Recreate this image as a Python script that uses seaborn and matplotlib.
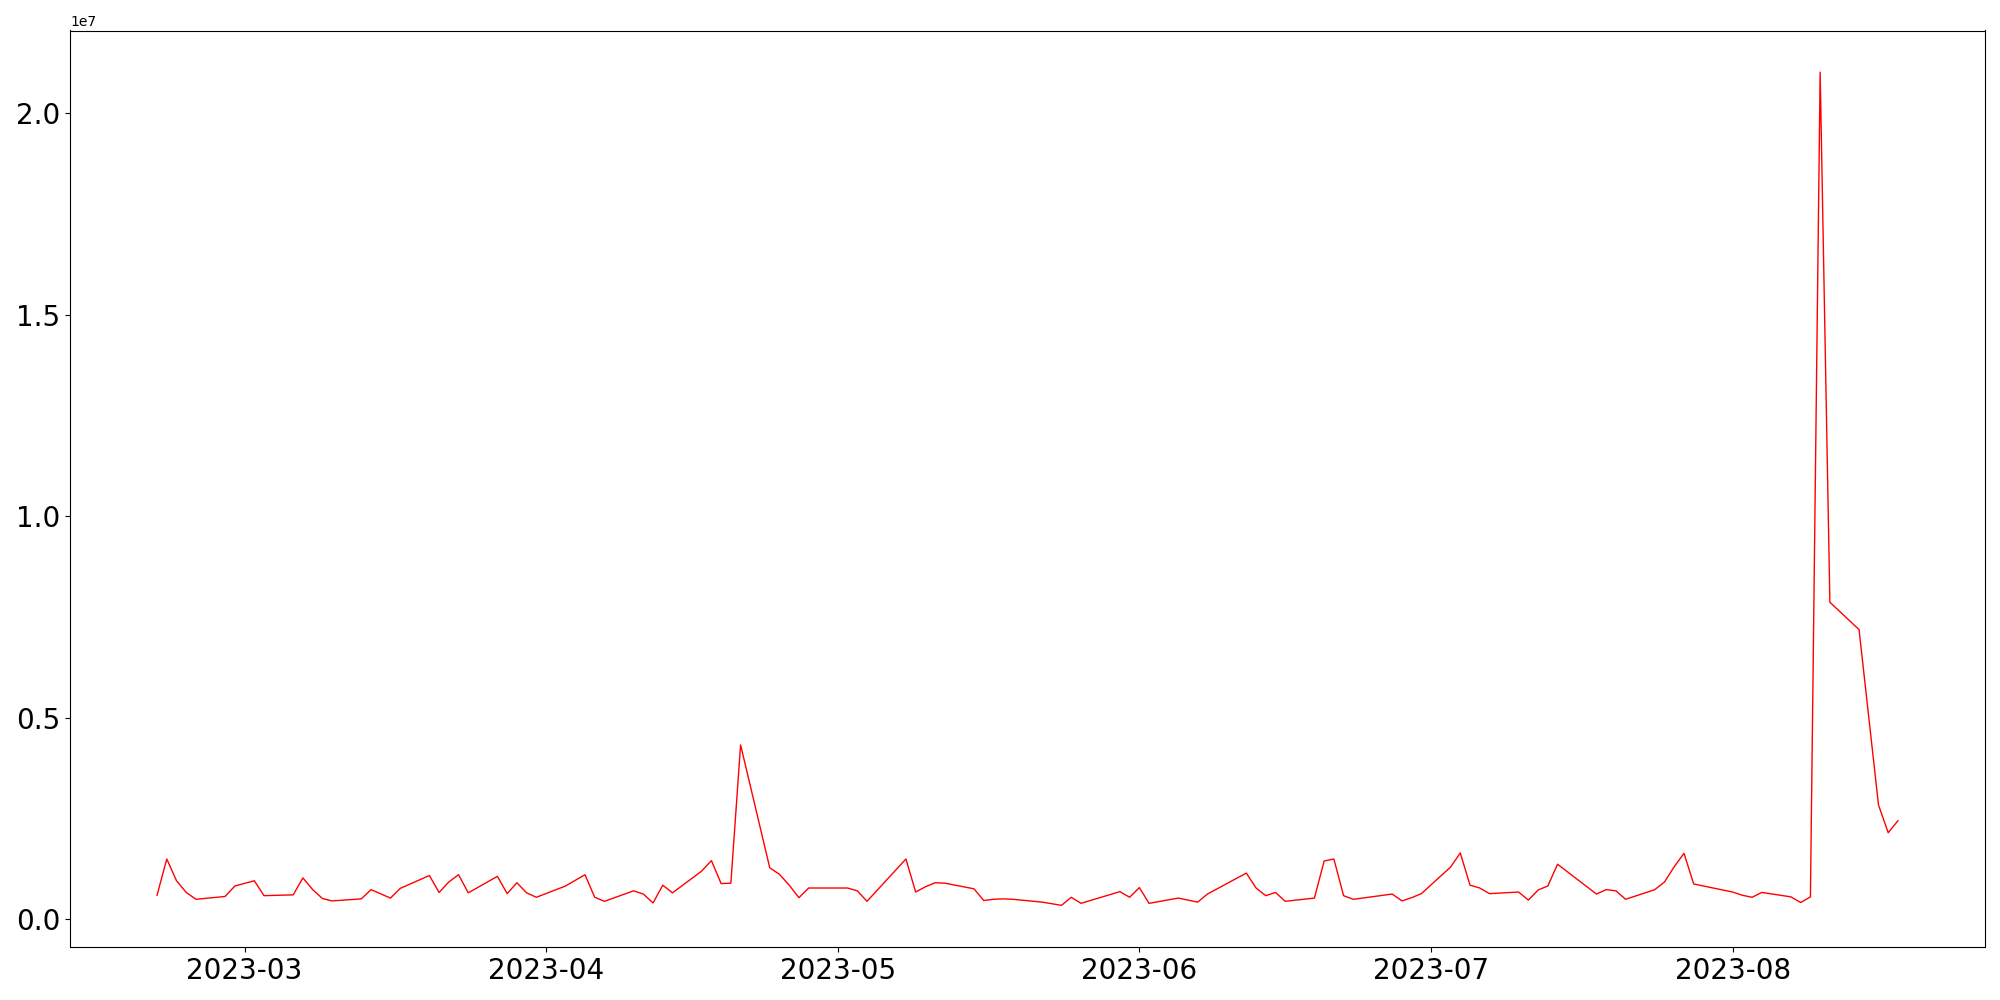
import pandas as pd
import matplotlib
matplotlib.use("Agg")
import matplotlib.pyplot as plt
import seaborn as sns

# Values (millions), business days with gaps
dates = [
    "2023-02-20", "2023-02-21", "2023-02-22", "2023-02-23", "2023-02-24",
    "2023-02-27", "2023-02-28", "2023-03-02", "2023-03-03",
    "2023-03-06", "2023-03-07", "2023-03-08", "2023-03-09", "2023-03-10",
    "2023-03-13", "2023-03-14", "2023-03-16", "2023-03-17",
    "2023-03-20", "2023-03-21", "2023-03-22", "2023-03-23", "2023-03-24",
    "2023-03-27", "2023-03-28", "2023-03-29", "2023-03-30", "2023-03-31",
    "2023-04-03", "2023-04-04", "2023-04-05", "2023-04-06", "2023-04-07",
    "2023-04-10", "2023-04-11", "2023-04-12", "2023-04-13", "2023-04-14",
    "2023-04-17", "2023-04-18", "2023-04-19", "2023-04-20", "2023-04-21",
    "2023-04-24", "2023-04-25", "2023-04-26", "2023-04-27", "2023-04-28",
    "2023-05-02", "2023-05-03", "2023-05-04",
    "2023-05-08", "2023-05-09", "2023-05-10", "2023-05-11", "2023-05-12",
    "2023-05-15", "2023-05-16", "2023-05-17", "2023-05-18", "2023-05-19",
    "2023-05-22", "2023-05-23", "2023-05-24", "2023-05-25", "2023-05-26",
    "2023-05-30", "2023-05-31", "2023-06-01", "2023-06-02",
    "2023-06-05", "2023-06-07", "2023-06-08",
    "2023-06-12", "2023-06-13", "2023-06-14", "2023-06-15", "2023-06-16",
    "2023-06-19", "2023-06-20", "2023-06-21", "2023-06-22", "2023-06-23",
    "2023-06-27", "2023-06-28", "2023-06-29", "2023-06-30",
    "2023-07-03", "2023-07-04", "2023-07-05", "2023-07-06", "2023-07-07",
    "2023-07-10", "2023-07-11", "2023-07-12", "2023-07-13", "2023-07-14",
    "2023-07-18", "2023-07-19", "2023-07-20", "2023-07-21",
    "2023-07-24", "2023-07-25", "2023-07-26", "2023-07-27", "2023-07-28",
    "2023-07-31", "2023-08-01", "2023-08-02", "2023-08-03", "2023-08-04",
    "2023-08-07", "2023-08-08", "2023-08-09", "2023-08-10", "2023-08-11",
    "2023-08-14", "2023-08-16", "2023-08-17", "2023-08-18",
]

volume_m = [
    0.60, 1.50, 0.96, 0.67, 0.50,
    0.57, 0.83, 0.96, 0.59,
    0.61, 1.03, 0.74, 0.52, 0.46,
    0.51, 0.74, 0.53, 0.77,
    1.09, 0.67, 0.93, 1.11, 0.66,
    1.07, 0.64, 0.91, 0.66, 0.55,
    0.83, 0.97, 1.11, 0.55, 0.45,
    0.71, 0.63, 0.41, 0.85, 0.66,
    1.20, 1.46, 0.89, 0.90, 4.33,
    1.28, 1.12, 0.85, 0.54, 0.78,
    0.78, 0.71, 0.45,
    1.50, 0.68, 0.81, 0.91, 0.90,
    0.76, 0.47, 0.50, 0.51, 0.50,
    0.43, 0.39, 0.35, 0.55, 0.40,
    0.69, 0.55, 0.79, 0.40,
    0.53, 0.43, 0.63,
    1.15, 0.78, 0.59, 0.67, 0.45,
    0.53, 1.45, 1.50, 0.59, 0.50,
    0.63, 0.46, 0.54, 0.64,
    1.30, 1.65, 0.85, 0.78, 0.64,
    0.68, 0.48, 0.73, 0.83, 1.37,
    0.63, 0.74, 0.71, 0.50,
    0.74, 0.93, 1.31, 1.64, 0.88,
    0.73, 0.68, 0.60, 0.55, 0.67,
    0.56, 0.42, 0.56, 21.02, 7.87,
    7.19, 2.84, 2.15, 2.45,
]

df = pd.DataFrame({"date": pd.to_datetime(dates),
                   "volume": [v * 1e6 for v in volume_m]})

fig, ax = plt.subplots(figsize=(20, 10), dpi=100)
sns.lineplot(x="date", y="volume", data=df, color="red", linewidth=1, ax=ax)
ax.set_xlabel("")
ax.set_ylabel("")
ax.tick_params(axis="both", labelsize=20)

fig.subplots_adjust(left=0.035, right=0.9925, bottom=0.053, top=0.9695)
fig.savefig("out.png", dpi=100)
